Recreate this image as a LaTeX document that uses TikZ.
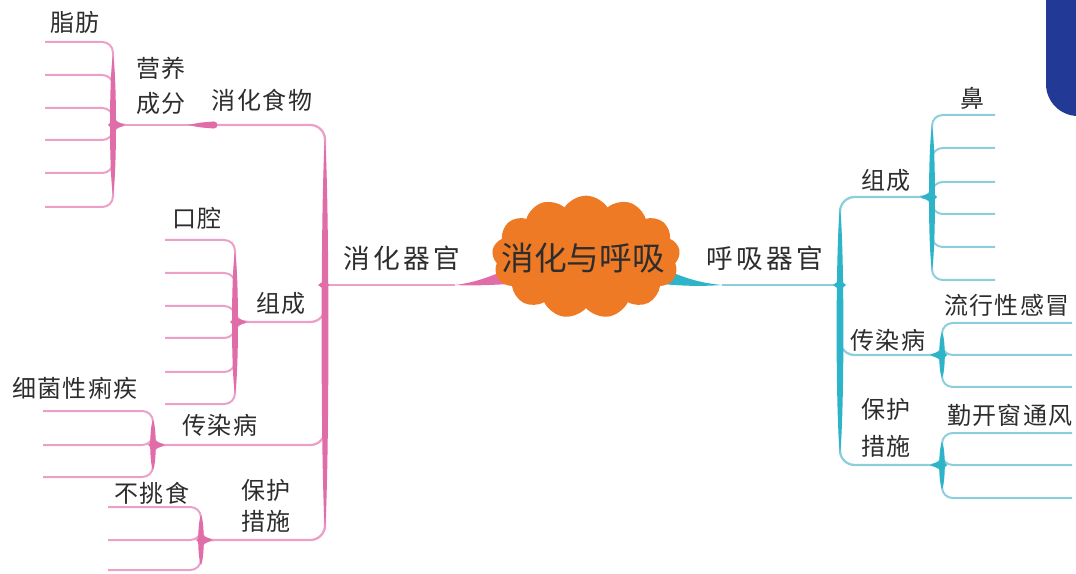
\documentclass[tikz,border=0pt]{standalone}
\usepackage{fontspec}
\newfontfamily\cjk[LetterSpace=6]{Noto Sans CJK SC}
\newfontfamily\cjkwide[LetterSpace=13]{Noto Sans CJK SC}
\newfontfamily\cjkhub{Noto Sans CJK SC}
\usetikzlibrary{shapes.symbols}

\definecolor{pinkleaf}{RGB}{236,160,200}
\definecolor{pinkdark}{RGB}{224,108,168}
\definecolor{cyanleaf}{RGB}{140,206,220}
\definecolor{cyandark}{RGB}{45,180,200}
\definecolor{hubor}{RGB}{238,122,38}
\definecolor{txtgray}{RGB}{45,45,45}
\definecolor{navy}{RGB}{34,58,150}

% lens shaped stem: colour, x, ytop, ybot, half width
\newcommand{\stem}[5]{%
  \fill[#1] (#2,#3) .. controls ({#2+1.33*#5},{#3+0.15*(#4-#3)}) and ({#2+1.33*#5},{#3+0.85*(#4-#3)}) .. (#2,#4)
    .. controls ({#2-1.33*#5},{#3+0.85*(#4-#3)}) and ({#2-1.33*#5},{#3+0.15*(#4-#3)}) .. cycle;}

\begin{document}
\begin{tikzpicture}[x=0.75pt,y=-0.75pt,
  lbl/.style={font=\cjk\fontsize{18}{26}\selectfont, text=txtgray, inner sep=0pt, align=center},
  biglbl/.style={font=\cjkwide\fontsize{20}{24}\selectfont, text=txtgray, inner sep=0pt},
  leafp/.style={pinkleaf, line width=1.5pt, rounded corners=8pt},
  branchp/.style={pinkleaf, line width=1.7pt, rounded corners=11pt},
  leafc/.style={cyanleaf, line width=1.5pt, rounded corners=8pt},
  branchc/.style={cyanleaf, line width=1.7pt, rounded corners=11pt}]
	\useasboundingbox (0,0) rectangle (1076,574);
	\clip (0,0) rectangle (1076,574);

	% corner tab
	\fill[navy, rounded corners=24pt] (1046,-40) rectangle (1130,116);

	% junctions
	\coordinate (jl) at (325,285);
	\coordinate (jr) at (840,285);
	\coordinate (taperl) at (455,285);
	\coordinate (taperr) at (722,285);
	\coordinate (kfood) at (214,125);
	\coordinate (jfood) at (125,125);
	\coordinate (jparts) at (247,322);
	\coordinate (jdis) at (165,445);
	\coordinate (jprot) at (213,540);
	\coordinate (jrparts) at (920,197);
	\coordinate (jrdis) at (930,355);
	\coordinate (jrprot) at (930,465);

	% tapers from the cloud
	\fill[pinkdark] (510,268) .. controls (488,278) and (472,283) .. (taperl)
		.. controls (472,286) and (490,285) .. (510,284) -- cycle;
	\fill[cyandark] (662,268) .. controls (684,278) and (700,283) .. (taperr)
		.. controls (700,286.5) and (684,286) .. (662,284) -- cycle;

	% left tree
	\draw[branchp] (taperl) -- (jl);
	\draw[branchp] (jl) |- (kfood);
	\draw[branchp] (jl) |- (jparts);
	\draw[branchp] (jl) |- (jdis);
	\draw[branchp] (jl) |- (jprot);
	\draw[leafp] (kfood) -- (jfood);
	\stem{pinkdark}{325}{138}{530}{3.4}
	\fill[pinkdark] (318,285) -- (325,280) -- (329,285) -- (325,290) -- cycle;
	\fill[pinkdark] (188,125) .. controls (200,122.5) .. (214,121.5) -- (214,128.5) .. controls (200,127.5) .. cycle;
	\fill[pinkdark] (kfood) circle[radius=2.6pt];

	\foreach \y [count=\i] in {42,75,108,140,173,207} {
		\coordinate (food\i) at (45,\y);
		\draw[leafp] (jfood) -- ++(-12,0) |- (food\i);
	}
	\stem{pinkdark}{113}{55}{195}{3}
	\fill[pinkdark] (jfood) -- (113,120) -- (108,125) -- (113,130) -- cycle;

	\foreach \y [count=\i] in {240,273,306,338,372,404} {
		\coordinate (part\i) at (165,\y);
		\draw[leafp] (jparts) -- ++(-12,0) |- (part\i);
	}
	\stem{pinkdark}{235}{252}{394}{3}
	\fill[pinkdark] (jparts) -- (235,317) -- (230,322) -- (235,327) -- cycle;

	\foreach \y [count=\i] in {411,445,477} {
		\coordinate (dis\i) at (43,\y);
		\draw[leafp] (jdis) -- ++(-12,0) |- (dis\i);
	}
	\stem{pinkdark}{153}{420}{470}{2.8}
	\fill[pinkdark] (jdis) -- (153,440) -- (148,445) -- (153,450) -- cycle;

	\foreach \y [count=\i] in {507,540,570} {
		\coordinate (prot\i) at (108,\y);
		\draw[leafp] (jprot) -- ++(-12,0) |- (prot\i);
	}
	\stem{pinkdark}{201}{515}{565}{2.8}
	\fill[pinkdark] (jprot) -- (201,535) -- (196,540) -- (201,545) -- cycle;

	% right tree
	\draw[branchc] (taperr) -- (jr);
	\draw[branchc] (jr) |- (jrparts);
	\draw[branchc] (jr) |- (jrdis);
	\draw[branchc] (jr) |- (jrprot);
	\stem{cyandark}{840}{208}{454}{3.4}
	\fill[cyandark] (833,285) -- (840,280) -- (846,285) -- (840,290) -- cycle;

	\foreach \y [count=\i] in {115,148,182,214,247,280} {
		\coordinate (rpart\i) at (995,\y);
		\draw[leafc] (jrparts) -- ++(12,0) |- (rpart\i);
	}
	\stem{cyandark}{932}{126}{270}{3}
	\fill[cyandark] (jrparts) -- (932,192) -- (937,197) -- (932,202) -- cycle;

	\foreach \y [count=\i] in {323,355,387} {
		\coordinate (rdis\i) at (1072,\y);
		\draw[leafc] (jrdis) -- ++(12,0) |- (rdis\i);
	}
	\stem{cyandark}{942}{332}{378}{2.8}
	\fill[cyandark] (jrdis) -- (942,350) -- (947,355) -- (942,360) -- cycle;

	\foreach \y [count=\i] in {433,465,498} {
		\coordinate (rprot\i) at (1072,\y);
		\draw[leafc] (jrprot) -- ++(12,0) |- (rprot\i);
	}
	\stem{cyandark}{942}{442}{489}{2.8}
	\fill[cyandark] (jrprot) -- (942,460) -- (947,465) -- (942,470) -- cycle;

	% centre cloud
	\node[cloud, cloud puffs=13, cloud puff arc=115, aspect=1.55, fill=hubor,
		minimum width=141pt, minimum height=92pt, inner sep=0pt] (hub) at (586,257) {};
	\node[font=\cjkhub\fontsize{24.5}{28}\selectfont, text=txtgray, inner sep=0pt] (hubtxt) at (583,258) {消化与呼吸};

	% labels
	\node[biglbl] (digest) at (402,258) {消化器官};
	\node[biglbl] (breath) at (765,258) {呼吸器官};

	\node[lbl] (fat) at (75,22) {脂肪};
	\node[lbl] (nutri) at (161,86) {营养\\成分};
	\node[lbl] (food) at (262,100) {消化食物};
	\node[lbl] (mouth) at (197,218) {口腔};
	\node[lbl] (partsl) at (281,303) {组成};
	\node[lbl] (dysen) at (75,388) {细菌性痢疾};
	\node[lbl] (disl) at (220,425) {传染病};
	\node[lbl] (picky) at (152,493) {不挑食};
	\node[lbl] (protl) at (266,506) {保护\\[-3pt]措施};

	\node[lbl] (nose) at (972,98) {鼻};
	\node[lbl] (partsr) at (886,180) {组成};
	\node[lbl] (flu) at (1007,305) {流行性感冒};
	\node[lbl] (disr) at (888,340) {传染病};
	\node[lbl] (vent) at (1010,415) {勤开窗通风};
	\node[lbl] (protr) at (886,428) {保护\\[1.5pt]措施};

\end{tikzpicture}
\end{document}
